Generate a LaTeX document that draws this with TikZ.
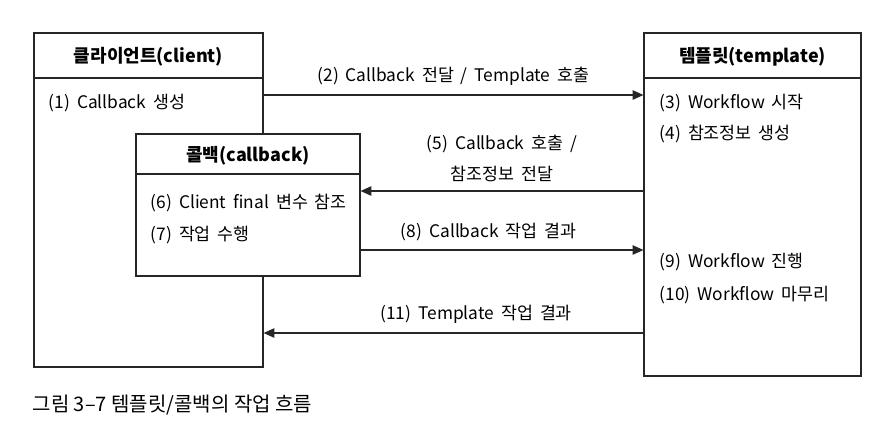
\documentclass[tikz,border=0pt]{standalone}
\usepackage{fontspec}
\setmainfont{Noto Sans CJK KR}[WordSpace=1.8]
\newfontfamily\captionfont{Noto Sans CJK KR}
\usetikzlibrary{arrows.meta}

\begin{document}
\begin{tikzpicture}[x=0.75pt,y=-0.75pt,
    box/.style={draw=black!85, line width=0.9pt, fill=white, inner sep=0pt},
    head/.style={font=\bfseries\fontsize{13.5}{15}\selectfont},
    item/.style={anchor=west, font=\fontsize{13}{15}\selectfont},
    lbl/.style={font=\fontsize{13}{23}\selectfont, align=center},
    arr/.style={draw=black!85, line width=0.9pt, -{Triangle[length=8pt,width=7pt]}}]
                \useasboundingbox (0,0) rectangle (887,446);

                % client and template
                \node[box, minimum width=171.75pt, minimum height=250.5pt] (client) at (148.5,200) {};
                \node[box, minimum width=162.75pt, minimum height=257.25pt] (template) at (752.5,204.5) {};
                \draw[draw=black!85, line width=0.9pt] (client.west |- 0,78) -- (client.east |- 0,78);
                \draw[draw=black!85, line width=0.9pt] (template.west |- 0,78) -- (template.east |- 0,78);
                \node[head] (clienthead) at (148.5,57) {클라이언트(client)};
                \node[head] (templatehead) at (752.5,57) {템플릿(template)};

                % callback
                \node[box, minimum width=168pt, minimum height=106.5pt] (callback) at (248,205) {};
                \draw[draw=black!85, line width=0.9pt] (callback.west |- 0,174) -- (callback.east |- 0,174);
                \node[head] (callbackhead) at (248,156) {콜백(callback)};

                \node[item] (step1) at (44,103) {(1) Callback 생성};
                \node[item] (step3) at (655,103) {(3) Workflow 시작};
                \node[item] (step4) at (655,134) {(4) 참조정보 생성};
                \node[item] (step6) at (146,203) {(6) Client final 변수 참조};
                \node[item] (step7) at (146,235) {(7) 작업 수행};
                \node[item] (step9) at (655,262) {(9) Workflow 진행};
                \node[item] (step10) at (655,295) {(10) Workflow 마무리};

                % flow
                \draw[arr] (client.east |- 0,95) -- node[lbl, above=3pt] (step2) {(2) Callback 전달 / Template 호출} (template.west |- 0,95);
                \draw[arr] (template.west |- 0,191) -- node[lbl, above=3pt] (step5) {(5) Callback 호출 /\\참조정보 전달} (callback.east |- 0,191);
                \draw[arr] (callback.east |- 0,250) -- node[lbl, above=3pt, xshift=-10] (step8) {(8) Callback 작업 결과} (template.west |- 0,250);
                \draw[arr] (template.west |- 0,333) -- node[lbl, above=3pt, xshift=17] (step11) {(11) Template 작업 결과} (client.east |- 0,333);

                \node[anchor=west, font=\captionfont\fontsize{15}{17}\selectfont] (caption) at (28,405) {그림 3–7 템플릿/콜백의 작업 흐름};
            \end{tikzpicture}
\end{document}
